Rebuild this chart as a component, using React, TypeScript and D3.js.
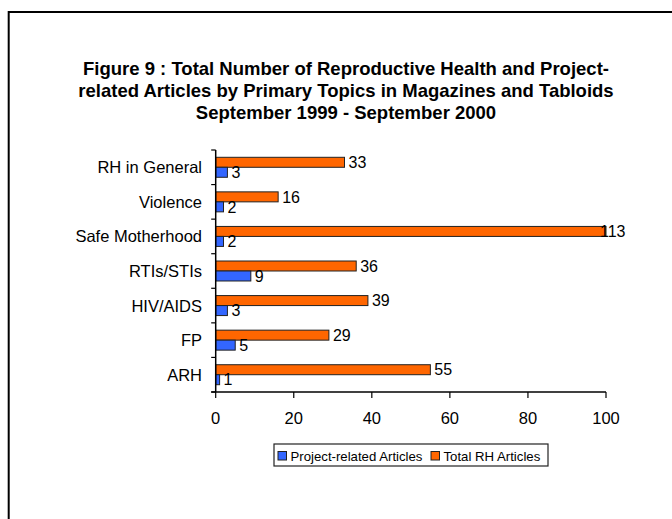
import * as d3 from "d3";

const categories = [
  "RH in General",
  "Violence",
  "Safe Motherhood",
  "RTIs/STIs",
  "HIV/AIDS",
  "FP",
  "ARH",
];
const projectRelated = [3, 2, 2, 9, 3, 5, 1];
const totalRH = [33, 16, 113, 36, 39, 29, 55];
const xTicks = [0, 20, 40, 60, 80, 100];
const titleLines = [
  "Figure 9 : Total Number of Reproductive Health and Project-",
  "related Articles by Primary Topics in Magazines and Tabloids",
  "September 1999 - September 2000",
];
const seriesNames = ["Project-related Articles", "Total RH Articles"];

const W = 672;
const H = 519;
const FONT = "'Liberation Sans', Arial, sans-serif";
const ORANGE = "#FF6600";
const BLUE = "#3366FF";

export default function App() {
  const plot = { left: 215.7, right: 606, top: 150, bottom: 392 };

  const x = d3.scaleLinear().domain([0, 100]).range([plot.left, plot.right]);
  const y = d3
    .scaleBand<string>()
    .domain(categories)
    .range([plot.top, plot.bottom])
    .padding(0);
  // total (orange) above project (blue) inside each band
  const inner = d3
    .scaleBand<string>()
    .domain(["total", "project"])
    .range([0, y.bandwidth()])
    .paddingInner(0)
    .paddingOuter(0.73);

  const barW = (v: number) => x(Math.min(v, 100)) - x(0);
  const labelX = (v: number) => (v > 100 ? x(100) - 6 : x(v) + 4);

  // category boundaries for y ticks
  const yBounds = categories.map((c) => y(c)!).concat([plot.bottom]);

  return (
    <svg
      width={W}
      height={H}
      style={{ position: "absolute", left: 0, top: 0, background: "#fff" }}
      fontFamily={FONT}
    >
      <rect x={0} y={0} width={W} height={H} fill="#fff" />
      {/* outer frame, runs past the right and bottom edges */}
      <rect x={8.7} y={12} width={700} height={600} fill="none" stroke="#000" strokeWidth={2} />

      {/* title */}
      {titleLines.map((t, i) => (
        <text
          key={i}
          x={346}
          y={75 + i * 22}
          textAnchor="middle"
          fontSize={18.5}
          fontWeight="bold"
          fill="#000"
        >
          {t}
        </text>
      ))}

      {/* bars */}
      {categories.map((c, i) => {
        const y0 = y(c)!;
        const yt = y0 + inner("total")!;
        const yp = y0 + inner("project")!;
        const bh = inner.bandwidth();
        return (
          <g key={c}>
            <rect
              x={x(0)}
              y={yt}
              width={barW(totalRH[i])}
              height={bh}
              fill={ORANGE}
              stroke="#222"
              strokeWidth={1}
            />
            <rect
              x={x(0)}
              y={yp}
              width={barW(projectRelated[i])}
              height={bh}
              fill={BLUE}
              stroke="#222"
              strokeWidth={1}
            />
            <text
              x={labelX(totalRH[i])}
              y={yt + bh / 2}
              dy="0.36em"
              fontSize={16}
              fill="#000"
            >
              {totalRH[i]}
            </text>
            <text
              x={labelX(projectRelated[i])}
              y={yp + bh / 2}
              dy="0.36em"
              fontSize={16}
              fill="#000"
            >
              {projectRelated[i]}
            </text>
            <text
              x={202}
              y={y0 + y.bandwidth() / 2}
              dy="0.36em"
              textAnchor="end"
              fontSize={16.5}
              fill="#000"
            >
              {c}
            </text>
          </g>
        );
      })}

      {/* y axis */}
      <line x1={x(0)} x2={x(0)} y1={plot.top} y2={plot.bottom} stroke="#000" strokeWidth={1.5} />
      {yBounds.map((b, i) => (
        <line key={i} x1={x(0) - 4.5} x2={x(0)} y1={b} y2={b} stroke="#000" strokeWidth={1.2} />
      ))}

      {/* x axis */}
      <line x1={x(0) - 4.5} x2={plot.right} y1={plot.bottom} y2={plot.bottom} stroke="#000" strokeWidth={1.5} />
      {xTicks.map((t) => (
        <g key={t}>
          <line x1={x(t)} x2={x(t)} y1={plot.bottom} y2={plot.bottom + 6} stroke="#000" strokeWidth={1.2} />
          <text x={x(t)} y={424} textAnchor="middle" fontSize={16.5} fill="#000">
            {t}
          </text>
        </g>
      ))}

      {/* legend */}
      <rect x={274} y={444} width={274} height={22} fill="#fff" stroke="#222" strokeWidth={1.2} />
      {seriesNames.map((s, i) => {
        const lx = i === 0 ? 278 : 431;
        return (
          <g key={s}>
            <rect
              x={lx}
              y={451.5}
              width={8.5}
              height={8.5}
              fill={i === 0 ? BLUE : ORANGE}
              stroke="#222"
              strokeWidth={1}
            />
            <text x={lx + 12.5} y={460.5} fontSize={13.2} fill="#000">
              {s}
            </text>
          </g>
        );
      })}
    </svg>
  );
}
